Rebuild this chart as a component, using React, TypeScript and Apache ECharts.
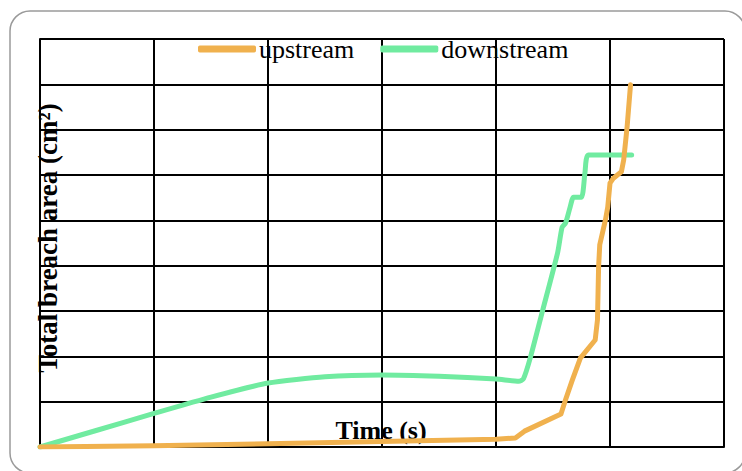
import React, { useEffect, useRef } from "react";
import * as echarts from "echarts";

const seriesNames = ["upstream", "downstream"];
const upstream: [number, number][] = [
  [0, 0], [1, 0.03], [2, 0.07], [3, 0.12], [4, 0.17], [4.17, 0.2], [4.25, 0.35],
  [4.57, 0.73], [4.61, 1.04], [4.67, 1.48], [4.74, 1.96], [4.87, 2.36], [4.89, 2.8],
  [4.9, 3.97], [4.91, 4.46], [4.96, 5.01], [4.98, 5.29], [5.0, 5.82], [5.03, 5.93],
  [5.1, 6.07], [5.12, 6.33], [5.15, 7.06], [5.18, 7.99],
];
const downstream: [number, number][] = [
  [0, 0], [0.5, 0.37], [1, 0.74], [1.5, 1.1], [2, 1.41], [2.5, 1.55], [3, 1.59],
  [3.5, 1.56], [4, 1.5], [4.2, 1.45], [4.24, 1.5], [4.3, 1.96], [4.41, 3.02],
  [4.54, 4.28], [4.58, 4.85], [4.61, 4.94], [4.65, 5.29], [4.68, 5.51], [4.75, 5.51],
  [4.78, 6.04], [4.81, 6.44], [5.19, 6.44],
];
const xTitle = "Time (s)";
const yTitle = "Total breach area (cm²)";

export default function App() {
  const ref = useRef<HTMLDivElement>(null);
  useEffect(() => {
    document.body.style.margin = "0";
    const chart = echarts.init(ref.current!, null, { renderer: "svg" });
    const font = "'Liberation Serif', 'Times New Roman', serif";
    chart.setOption({
      animation: false,
      grid: { left: 40, right: 18, top: 39, bottom: 24 },
      legend: {
        data: seriesNames,
        left: 193,
        top: 31,
        icon: "roundRect",
        itemWidth: 58,
        itemHeight: 7,
        itemGap: 26,
        textStyle: { fontFamily: font, fontSize: 26, color: "#000", padding: [0, 0, 0, -2] },
      },
      xAxis: {
        type: "value",
        min: 0,
        max: 6,
        interval: 1,
        axisLabel: { show: false },
        axisTick: { show: false },
        axisLine: { show: true, lineStyle: { color: "#000", width: 2 } },
        splitLine: { show: true, lineStyle: { color: "#000", width: 2 } },
      },
      yAxis: {
        type: "value",
        min: 0,
        max: 9,
        interval: 1,
        axisLabel: { show: false },
        axisTick: { show: false },
        axisLine: { show: true, lineStyle: { color: "#000", width: 2 } },
        splitLine: { show: true, lineStyle: { color: "#000", width: 2 } },
      },
      graphic: [
        {
          type: "rect",
          shape: { x: 10, y: 11, width: 735, height: 462, r: 20 },
          style: { fill: "none", stroke: "#9a9a9a", lineWidth: 1.5 },
          silent: true,
        },
        {
          type: "text",
          x: 381,
          y: 430,
          style: {
            text: xTitle,
            font: `bold 26px ${font}`,
            fill: "#000",
            align: "center",
            verticalAlign: "middle",
          },
        },
        {
          type: "text",
          x: 48,
          y: 238,
          rotation: Math.PI / 2,
          style: {
            text: yTitle,
            font: `bold 27px ${font}`,
            fill: "#000",
            align: "center",
            verticalAlign: "middle",
          },
        },
      ],
      series: [
        {
          name: seriesNames[0],
          type: "line",
          data: upstream,
          symbol: "none",
          itemStyle: { color: "#F0B14E" },
          lineStyle: { color: "#F0B14E", width: 5, cap: "round", join: "round" },
          z: 3,
        },
        {
          name: seriesNames[1],
          type: "line",
          data: downstream,
          symbol: "none",
          smooth: 0.2,
          itemStyle: { color: "#70EBA0" },
          lineStyle: { color: "#70EBA0", width: 5, cap: "round", join: "round" },
          z: 2,
        },
      ],
    });
    return () => chart.dispose();
  }, []);
  return <div ref={ref} style={{ width: 742, height: 471 }} />;
}
